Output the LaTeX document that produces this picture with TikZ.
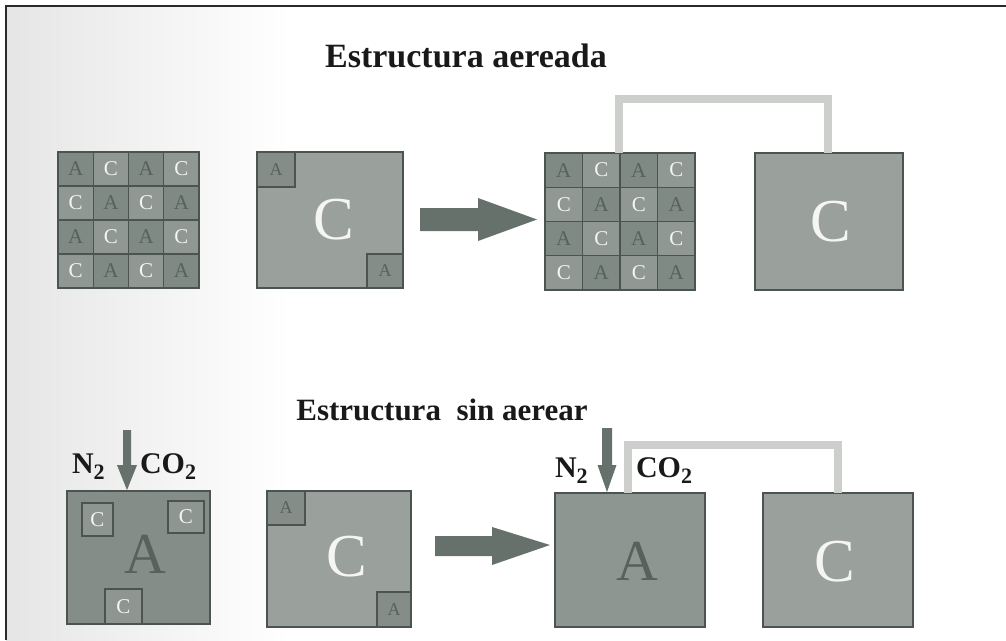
\documentclass[tikz,border=0pt]{standalone}
\usepackage{fontspec}
\setmainfont{Liberation Serif}
\usetikzlibrary{calc}
\definecolor{edge}{HTML}{4C544F}
\definecolor{cellAcol}{HTML}{808A84}
\definecolor{cellCcol}{HTML}{8F9892}
\definecolor{boxlight}{HTML}{9AA09C}
\definecolor{boxmid}{HTML}{8E9691}
\definecolor{boxdark}{HTML}{848D88}
\definecolor{letterA}{HTML}{58615B}
\definecolor{letterC}{HTML}{F4F5F4}
\definecolor{arrowcol}{HTML}{66716B}
\definecolor{linkcol}{HTML}{CDCFCD}
\definecolor{framecol}{HTML}{2A2A2A}
\newcommand{\gassub}[1]{\raisebox{-0.2em}{\fontsize{22}{22}\selectfont #1}}
\begin{document}
\begin{tikzpicture}[x=1pt,y=-1pt,
  every node/.style={inner sep=0pt, outer sep=0pt},
  boxnode/.style={draw=edge, line width=1.4pt, anchor=north west},
  cellA/.style={boxnode, fill=cellAcol, text=letterA, font=\fontsize{21}{21}\selectfont},
  cellC/.style={boxnode, fill=cellCcol, text=letterC, font=\fontsize{21}{21}\selectfont},
  smallA/.style={boxnode, fill=boxdark, text=letterA, font=\fontsize{18}{18}\selectfont},
  smallC/.style={boxnode, fill=boxmid, text=letterC, font=\fontsize{21}{21}\selectfont},
  bigC/.style={text=letterC, font=\fontsize{61}{61}\selectfont},
  bigA/.style={text=letterA, font=\fontsize{58}{58}\selectfont},
  titletext/.style={anchor=base, font=\bfseries\fontsize{34}{34}\selectfont, text=black!90},
  gaslabel/.style={anchor=base west, font=\bfseries\fontsize{30}{30}\selectfont, text=black!90},
  link/.style={draw=linkcol, line width=8pt},
  blockarrow/.style={fill=arrowcol}
]
\useasboundingbox (0,0) rectangle (1006,640);
% faint scan shading at the left
\fill[left color=black!10, right color=white] (6,6) rectangle (290,640);
% frame
\draw[framecol, line width=2pt] (1006,6) -- (6,6) -- (6,640);

% titles
\node[titletext] (t1) at (466,67) {Estructura aereada};
\node[titletext, font=\bfseries\fontsize{31}{31}\selectfont] (t2) at (442,420) {Estructura\ \ sin aerear};

% ---------- top row ----------
% grid 1
\foreach \r in {0,...,3}{
  \foreach \c in {0,...,3}{
    \pgfmathtruncatemacro{\parity}{mod(\r+\c,2)}
    \ifnum\parity=0
      \node[cellA, minimum width=35.25pt, minimum height=34pt] (g1-\r-\c) at (58+35.25*\c,152+34*\r) {A};
    \else
      \node[cellC, minimum width=35.25pt, minimum height=34pt] (g1-\r-\c) at (58+35.25*\c,152+34*\r) {C};
    \fi
  }
}
% box 2
\node[boxnode, fill=boxlight, minimum width=146pt, minimum height=136pt] (b2) at (257,152) {};
\node[smallA, minimum width=38pt, minimum height=35pt] (b2a1) at (257,152) {A};
\node[smallA, minimum width=36pt, minimum height=34pt] (b2a2) at (367,254) {A};
\node[bigC] (b2c) at ($(b2.center)+(4,0)$) {C};

% block arrow 1
\coordinate (a1s) at ($(b2.east)+(17,-0.5)$);
\fill[blockarrow] ($(a1s)+(0,-11.5)$) -- ++(58,0) -- ++(0,-10) -- ($(a1s)+(117,0)$)
  -- ($(a1s)+(58,21.5)$) -- ++(0,-10) -- ($(a1s)+(0,11.5)$) -- cycle;

% grid 2
\foreach \r in {0,...,3}{
  \foreach \c in {0,...,3}{
    \pgfmathtruncatemacro{\parity}{mod(\r+\c,2)}
    \ifnum\parity=0
      \node[cellA, minimum width=37.5pt, minimum height=34.25pt] (g2-\r-\c) at (545+37.5*\c,153+34.25*\r) {A};
    \else
      \node[cellC, minimum width=37.5pt, minimum height=34.25pt] (g2-\r-\c) at (545+37.5*\c,153+34.25*\r) {C};
    \fi
  }
}
\coordinate (g2top) at (619,153);
% box C right
\node[boxnode, fill=boxlight, minimum width=148pt, minimum height=137pt] (b3) at (755,153) {};
\node[bigC] (b3c) at ($(b3.center)+(2,0)$) {C};
\coordinate (b3top) at (828,153);
\draw[link] (g2top) -- ++(0,-54) -| (b3top);

% ---------- bottom row ----------
% box with A and three C
\node[boxnode, fill=boxdark, minimum width=143pt, minimum height=133pt] (b4) at (67,491) {};
\node[smallC, minimum width=31pt, minimum height=33pt] (b4c1) at (82,503) {C};
\node[smallC, minimum width=36pt, minimum height=32pt] (b4c2) at (168,501) {C};
\node[smallC, minimum width=37pt, minimum height=35pt] (b4c3) at (105,589) {C};
\node[bigA] (b4a) at ($(b4.center)+(7,-3)$) {A};
% gas arrow 1
\coordinate (d1) at (127,430);
\fill[blockarrow] ($(d1)+(-4,0)$) -- ++(0,35) -- ++(-6,0) -- ($(b4.north west)+(60,-1)$)
  -- ($(d1)+(10,35)$) -- ++(-6,0) -- ($(d1)+(4,0)$) -- cycle;
\node[gaslabel] (n2a) at (72,473) {N\gassub{2}};
\node[gaslabel] (co2a) at (140,473) {CO\gassub{2}};

% box 5 (C with two A)
\node[boxnode, fill=boxlight, minimum width=144pt, minimum height=136pt] (b5) at (267,491) {};
\node[smallA, minimum width=38pt, minimum height=34pt] (b5a1) at (267,491) {A};
\node[smallA, minimum width=34pt, minimum height=35pt] (b5a2) at (377,592) {A};
\node[bigC] (b5c) at ($(b5.center)+(8,-2)$) {C};

% block arrow 2
\coordinate (a2s) at ($(b5.east)+(24,-13)$);
\fill[blockarrow] ($(a2s)+(0,-10)$) -- ++(57,0) -- ++(0,-9) -- ($(a2s)+(115,-1)$)
  -- ($(a2s)+(57,19)$) -- ++(0,-9) -- ($(a2s)+(0,10)$) -- cycle;

% box 6 (A)
\node[boxnode, fill=boxmid, minimum width=150pt, minimum height=134pt] (b6) at (555,493) {};
\node[bigA] (b6a) at ($(b6.center)+(7,1)$) {A};
% box 7 (C)
\node[boxnode, fill=boxlight, minimum width=150pt, minimum height=134pt] (b7) at (763,493) {};
\node[bigC] (b7c) at ($(b7.center)+(-3,2)$) {C};
\coordinate (b6top) at (628,493);
\coordinate (b7top) at (838,493);
\draw[link] (b6top) -- ++(0,-48) -| (b7top);
% gas arrow 2
\coordinate (d2) at (607,428);
\fill[blockarrow] ($(d2)+(-5,0)$) -- ++(0,37) -- ++(-4.5,0) -- ($(b6.north west)+(52,-1)$)
  -- ($(d2)+(9.5,37)$) -- ++(-4.5,0) -- ($(d2)+(5,0)$) -- cycle;
\node[gaslabel] (n2b) at (555,477) {N\gassub{2}};
\node[gaslabel] (co2b) at (636,477) {CO\gassub{2}};
\end{tikzpicture}
\end{document}
